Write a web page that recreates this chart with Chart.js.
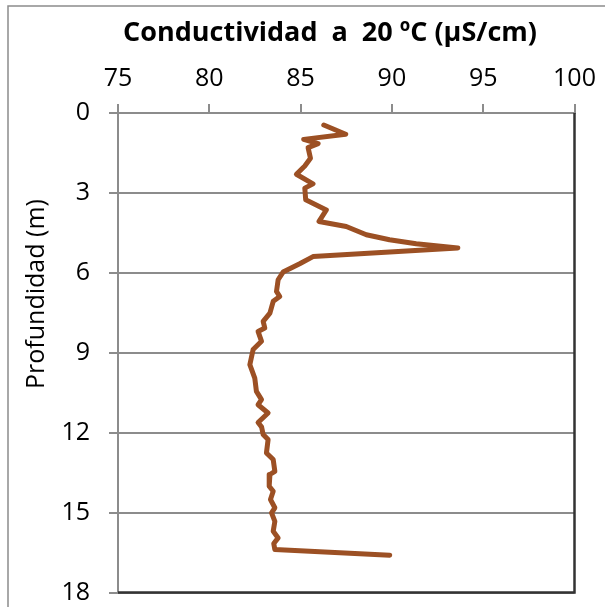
<!DOCTYPE html>
<html>
<head>
<meta charset="utf-8">
<script src="https://cdn.jsdelivr.net/npm/chart.js@4.4.1/dist/chart.umd.min.js"></script>
<style>
  html, body { margin: 0; padding: 0; background: #ffffff; }
  #wrap { width: 605px; height: 607px; position: relative; }
</style>
</head>
<body>
<div id="wrap"><canvas id="c" width="605" height="607"></canvas></div>
<script>
// ---- Data ----
const chartTitle = "Conductividad  a  20 ºC (µS/cm)";
const yAxisTitle = "Profundidad (m)";
const xTicks = [75, 80, 85, 90, 95, 100];
const yTicks = [0, 3, 6, 9, 12, 15, 18];
const conductivity = [
  86.27, 87.47, 85.17, 85.96, 85.41, 85.54, 85.23, 84.77, 85.68, 85.23,
  85.28, 86.41, 86.01, 87.50, 88.60, 89.87, 91.33, 93.61, 85.68, 84.95,
  84.04, 83.77, 83.68, 83.86, 83.50, 83.32, 82.95, 83.04, 82.67, 82.86,
  82.40, 82.22, 82.49, 82.58, 82.86, 82.67, 83.22, 82.67, 82.86, 82.95,
  83.22, 83.13, 83.50, 83.59, 83.32, 83.28, 83.50, 83.35, 83.59, 83.41,
  83.59, 83.50, 83.77, 83.53, 83.59, 89.88
];
const depth = [
  0.45, 0.80, 0.99, 1.15, 1.30, 1.70, 1.99, 2.30, 2.66, 2.82,
  3.26, 3.64, 4.07, 4.26, 4.57, 4.76, 4.91, 5.07, 5.39, 5.66,
  5.97, 6.26, 6.70, 6.89, 7.07, 7.51, 7.82, 8.07, 8.20, 8.57,
  8.88, 9.45, 9.95, 10.45, 10.76, 10.95, 11.26, 11.62, 11.78, 12.07,
  12.26, 12.76, 13.01, 13.45, 13.57, 14.01, 14.20, 14.51, 14.82, 15.01,
  15.33, 15.70, 15.95, 16.16, 16.39, 16.60
];

const points = conductivity.map((v, i) => ({ x: v, y: depth[i] }));

const FONT = "'Open Sans', 'Noto Sans', sans-serif";
const PLOT = { left: 118, top: 113, right: 574.5, bottom: 592.5 };

const decor = {
  id: 'decor',
  beforeDraw(chart) {
    const ctx = chart.ctx;
    ctx.save();
    ctx.strokeStyle = '#8c8c8c';
    ctx.lineWidth = 1.5;
    ctx.strokeRect(8, 6, 800, 800);
    ctx.restore();
  },
  afterDraw(chart) {
    const ctx = chart.ctx;
    const a = chart.chartArea;
    ctx.save();
    // right and bottom plot border
    ctx.strokeStyle = '#333333';
    ctx.lineWidth = 2.5;
    ctx.beginPath();
    ctx.moveTo(a.right, a.top);
    ctx.lineTo(a.right, a.bottom);
    ctx.lineTo(a.left, a.bottom);
    ctx.stroke();
    // title
    ctx.fillStyle = '#000000';
    ctx.font = "bold 27px " + FONT;
    ctx.textAlign = 'center';
    ctx.textBaseline = 'middle';
    ctx.fillText(chartTitle, 330, 33);
    // y axis title
    ctx.font = "25px " + FONT;
    ctx.translate(44, 294);
    ctx.rotate(-Math.PI / 2);
    ctx.textAlign = 'center';
    ctx.textBaseline = 'alphabetic';
    ctx.fillText(yAxisTitle, 0, 0);
    ctx.restore();
  }
};

new Chart(document.getElementById('c'), {
  type: 'scatter',
  data: {
    datasets: [{
      data: points,
      showLine: true,
      borderColor: '#9C5024',
      backgroundColor: '#9C5024',
      borderWidth: 5,
      pointRadius: 0,
      tension: 0,
      borderJoinStyle: 'round',
      borderCapStyle: 'round'
    }]
  },
  options: {
    responsive: false,
    devicePixelRatio: 1,
    animation: false,
    layout: { padding: { left: 0, top: 0, right: 605 - PLOT.right, bottom: 607 - PLOT.bottom } },
    plugins: { legend: { display: false }, title: { display: false }, tooltip: { enabled: false } },
    scales: {
      x: {
        type: 'linear',
        position: 'top',
        min: xTicks[0],
        max: xTicks[xTicks.length - 1],
        afterBuildTicks(scale) { scale.ticks = xTicks.map(v => ({ value: v })); },
        afterFit(scale) { scale.height = PLOT.top; scale.paddingLeft = 0; scale.paddingRight = 0; },
        grid: { drawOnChartArea: false, drawTicks: true, tickLength: 9, color: '#8c8c8c', lineWidth: 2 },
        border: { display: true, color: '#8c8c8c', width: 2 },
        ticks: { color: '#000000', font: { family: FONT, size: 25 }, padding: 10, maxRotation: 0 }
      },
      y: {
        type: 'linear',
        position: 'left',
        reverse: true,
        min: yTicks[0],
        max: yTicks[yTicks.length - 1],
        afterBuildTicks(scale) { scale.ticks = yTicks.map(v => ({ value: v })); },
        afterFit(scale) { scale.width = PLOT.left; scale.paddingTop = 0; scale.paddingBottom = 0; },
        grid: { drawOnChartArea: true, drawTicks: true, tickLength: 9, color: '#8c8c8c', lineWidth: 2 },
        border: { display: true, color: '#8c8c8c', width: 2 },
        ticks: { color: '#000000', font: { family: FONT, size: 25 }, padding: 19 }
      }
    }
  },
  plugins: [decor]
});
</script>
</body>
</html>
